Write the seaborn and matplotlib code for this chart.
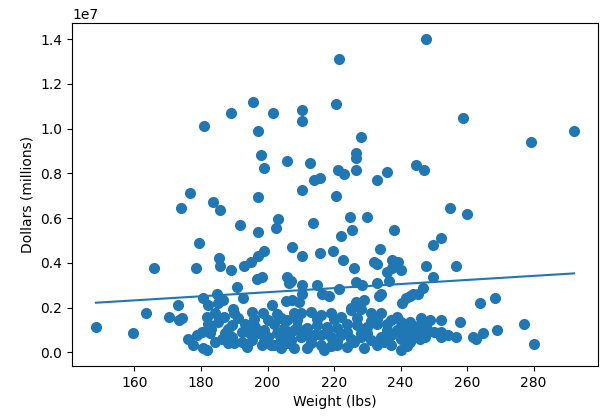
import numpy as np
import matplotlib
matplotlib.use("Agg")
import matplotlib.pyplot as plt
import seaborn as sns

# Weight (lbs) and salary (millions of dollars)
weight = [
    181, 176.7, 221.5, 195.5, 189, 201.8, 210.4, 210.4, 220.6, 197,
    197.9, 198.8, 206, 212.8, 214, 215.8, 210.4, 221.2, 197, 183.6,
    220.6, 247.8, 258.8, 228, 226.6, 226.6, 223, 226.6, 232.8, 236,
    244.8, 247.2, 279.1, 292.2, 174, 166, 148.4, 159.7, 163.6, 170.4,
    173.1, 173.4, 185.7, 179.4, 178.5, 185.4, 185.7, 189, 191.6, 190.7,
    174.3, 197, 203.3, 202.7, 207.5, 199, 197, 195, 193, 196.7,
    198.2, 206, 206.6, 192.5, 205.7, 201.5, 189.6, 213.7, 224.8, 225.4,
    222.1, 210.4, 215.8, 219.7, 222.7, 226, 207.2, 210.4, 214.9, 221.5,
    226.6, 210.4, 216.4, 218.5, 207.5, 226.6, 229.8, 237.9, 233.7, 231.9,
    232.8, 237.3, 239.1, 237.3, 240, 247.8, 228.4, 232.8, 234, 235.8,
    236.4, 241.5, 243, 243.9, 240.3, 229, 225, 254.9, 260, 249.9,
    252.2, 249.9, 256.7, 246.9, 245.4, 263.9, 268.4, 246.3, 249, 252.2,
    257.9, 246.9, 247.5, 252.2, 252.2, 254.3, 256.7, 261.8, 262.7, 264.8,
    269, 277, 280, 245.4,
    # dense cluster, left part
    180.6, 184.8, 182.1, 186.6, 181.8, 184.2, 182.1, 185.1, 185.1,
    191, 189.3, 193.1, 187.2, 192.2, 196.1, 195.2, 198.5, 200, 197,
    202.1, 204.2, 206, 208.1, 203, 206, 208.1, 200, 195.2, 192.2,
    189.3, 186.3, 182.7, 180.3, 178.8, 176.1, 177.6, 180.6, 181.8, 202.1,
    204.2, 206, 198.2, 193.7, 188, 184.2,
    # dense cluster, right part
    210.1, 213.1, 216.1, 219.1, 222.1, 225.1, 228.1, 231, 234, 237,
    240, 243, 247.8, 209, 212, 214.9, 217.9, 220.9, 223.9, 226.9,
    229.8, 232.8, 235.8, 238.8, 241.8, 244.8, 210.1, 213.1, 216.1, 219.1,
    222.1, 225.1, 228.1, 231, 234, 237, 240, 243, 246, 212,
    217, 220.9, 223.9, 229, 232.8, 240, 243, 237, 233.4, 209.6,
    # dense cluster, in-between
    187, 190, 194, 196, 199, 201, 203, 205, 207, 209,
    211, 213, 215, 216, 218, 220, 221, 224, 226, 227,
    230, 233, 235, 236, 239, 241, 242, 244, 248, 250,
    183, 188, 190, 199, 204, 208, 214, 219, 228, 231,
]
salary_m = [
    10.13, 7.1, 13.1, 11.2, 10.7, 10.7, 10.85, 10.35, 11.1, 9.87,
    8.84, 8.26, 8.53, 8.44, 7.68, 7.77, 7.25, 8.17, 6.94, 6.7,
    6.98, 14.02, 10.45, 9.64, 8.93, 8.7, 7.99, 8.17, 7.72, 8.08,
    8.39, 8.17, 9.42, 9.87, 6.47, 3.75, 1.12, 0.85, 1.74, 1.56,
    2.1, 1.43, 6.34, 4.87, 3.79, 4.2, 3.84, 3.66, 5.67, 2.92,
    1.52, 5.36, 5.94, 5.54, 4.71, 4.55, 4.3, 4.05, 3.85, 3.26,
    3.35, 3.35, 3.08, 2.41, 2.28, 2.1, 1.96, 5.8, 6.07, 5.49,
    5.22, 4.29, 4.42, 4.51, 4.11, 3.79, 3.21, 3.0, 2.99, 2.83,
    3.14, 2.63, 2.63, 2.5, 2.32, 2.23, 6.03, 5.49, 4.64, 4.06,
    3.97, 4.15, 4.06, 3.79, 3.66, 3.88, 2.99, 3.12, 2.63, 3.57,
    3.21, 2.41, 2.54, 2.63, 2.19, 2.32, 2.0, 6.43, 6.2, 4.78,
    5.09, 3.39, 3.88, 2.86, 2.63, 2.19, 2.41, 1.52, 1.43, 1.47,
    1.34, 0.85, 0.67, 0.89, 0.67, 0.76, 0.71, 0.67, 0.58, 0.85,
    0.98, 1.25, 0.36, 1.16,
    2.41, 2.63, 2.1, 2.32, 1.56, 1.74, 1.29, 1.34, 2.19,
    1.52, 1.21, 1.29, 0.85, 0.89, 1.12, 1.79, 1.74, 1.43, 0.85,
    1.29, 1.52, 1.43, 1.74, 0.85, 0.89, 0.98, 0.67, 0.54, 0.45,
    0.67, 0.62, 0.85, 0.89, 0.76, 0.62, 0.31, 0.18, 0.09, 0.31,
    0.18, 0.4, 0.31, 0.22, 0.4, 0.45,
    1.74, 1.79, 1.65, 1.74, 1.56, 1.88, 1.96, 1.74, 1.74, 1.43,
    1.34, 1.34, 1.29, 1.12, 1.07, 1.21, 1.12, 1.07, 1.29, 1.21,
    1.12, 1.29, 0.98, 0.98, 0.89, 1.07, 0.67, 0.62, 0.76, 0.67,
    0.76, 0.62, 0.67, 0.54, 0.67, 0.76, 0.62, 0.54, 0.62, 0.18,
    0.09, 0.31, 0.22, 0.18, 0.31, 0.09, 0.45, 0.31, 2.54, 2.23,
    1.6, 0.4, 0.9, 1.5, 1.0, 0.35, 1.7, 1.1, 0.55, 1.45,
    0.9, 0.4, 1.5, 0.35, 0.95, 1.5, 0.5, 0.9, 0.45, 1.55,
    0.85, 1.5, 0.45, 1.25, 1.6, 1.15, 0.3, 0.85, 1.05, 0.9,
    1.05, 1.05, 1.75, 0.5, 0.6, 0.2, 0.8, 0.3, 0.85, 1.4,
]

# fitted trend line end points
fit_weight = [148.4, 292.2]
fit_salary_m = [2.22, 3.53]

salary = np.array(salary_m) * 1e6
fit_salary = np.array(fit_salary_m) * 1e6

fig = plt.figure(figsize=(6, 4.2), dpi=100)
ax = fig.add_axes([0.12, 0.1286, 0.8767, 0.8167])

color = "#1f77b4"
sns.scatterplot(x=weight, y=salary, ax=ax, color=color, s=64, linewidth=0)
sns.lineplot(x=fit_weight, y=fit_salary, ax=ax, color=color, linewidth=1.5)

ax.set_xlabel("Weight (lbs)", fontsize=10)
ax.set_ylabel("Dollars (millions)", fontsize=10)
ax.tick_params(labelsize=10)

fig.savefig("out.png", dpi=100)
